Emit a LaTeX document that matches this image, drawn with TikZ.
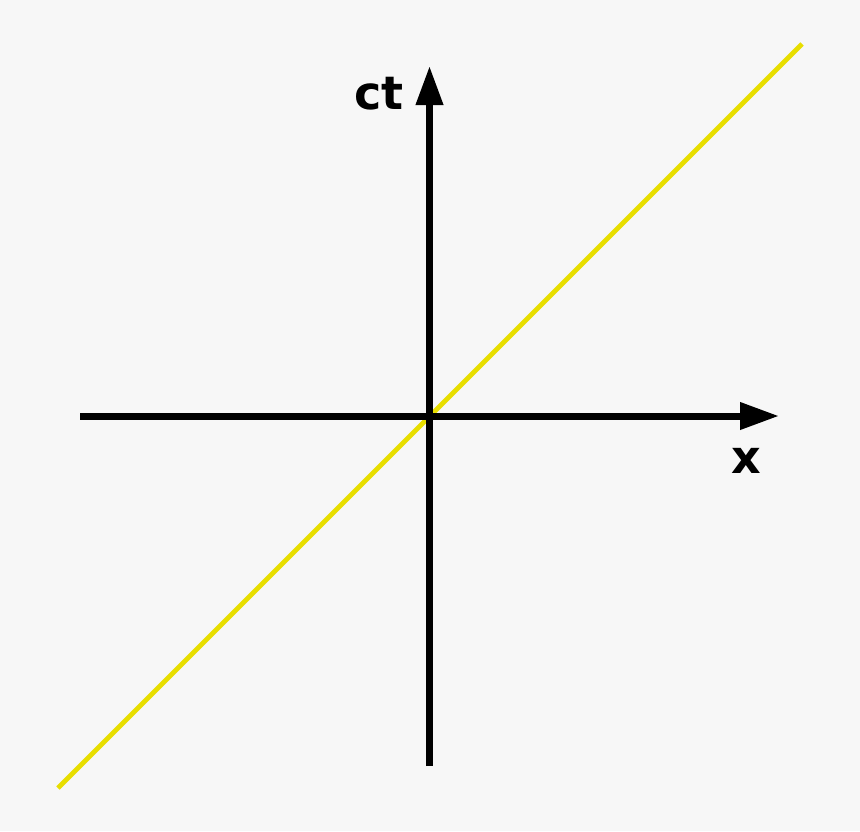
\documentclass[tikz,border=0pt]{standalone}
\usepackage{fontspec}
\setmainfont{DejaVu Sans}
\usetikzlibrary{arrows.meta}
\definecolor{bg}{HTML}{F7F7F7}
\definecolor{light}{HTML}{E8DE00}
\tikzset{
  axis/.style={line width=7pt, black, -{Triangle[length=39pt,width=26pt]}},
  worldline/.style={line width=4.8pt, light},
  lbl/.style={font=\bfseries\fontsize{46}{50}\selectfont, inner sep=0pt, anchor=base}
}
\begin{document}
\begin{tikzpicture}[x=1pt,y=-1pt]
  \fill[bg] (0,0) rectangle (860,831);
  \useasboundingbox (0,0) rectangle (860,831);
  \coordinate (lstart) at (58,788);
  \coordinate (lend) at (802,44);
  \coordinate (xstart) at (80,416);
  \coordinate (xend) at (779,416);
  \coordinate (tstart) at (429.5,766);
  \coordinate (tend) at (429.5,66);
  \draw[worldline] (lstart) -- (lend);
  \draw[axis] (xstart) -- (xend);
  \draw[axis] (tstart) -- (tend);
  \node[lbl] (ct) at (379,109) {ct};
  \node[lbl] (x) at (746,473) {x};
\end{tikzpicture}
\end{document}
